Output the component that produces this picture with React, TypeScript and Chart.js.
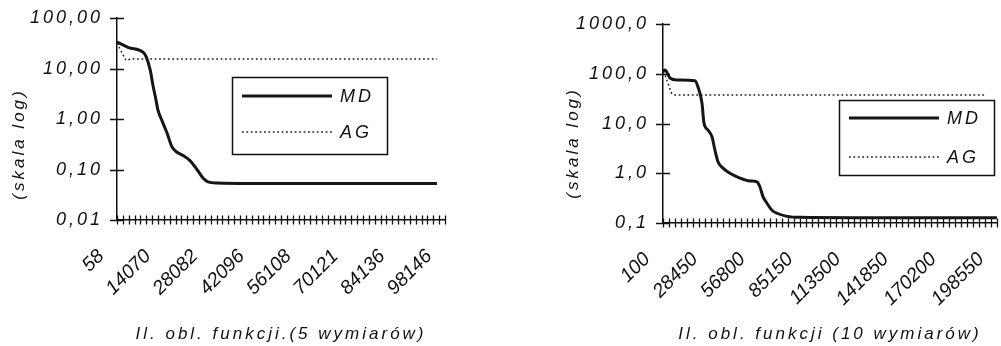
import React, { useEffect, useRef } from 'react';
import { Chart, registerables } from 'chart.js';

Chart.register(...registerables);

const FONT = "'Liberation Sans', Arial, sans-serif";
const INK = '#111111';
const LETTER_SPACING = '3px';
const MINOR_PER_LABEL = 8;

const seriesNames = ['MD', 'AG'];
const yTitle = '(skala log)';

// ---------- Chart 1: 5 wymiarów ----------
const xTitle5 = 'Il. obl. funkcji.(5 wymiarów)';
const xLabels5 = ['58', '14070', '28082', '42096', '56108', '70121', '84136', '98146'];
const yValues5 = [0.01, 0.1, 1, 10, 100];
const yLabels5 = ['0,01', '0,10', '1,00', '10,00', '100,00'];
const mdEvals5 = [58, 3500, 7832, 8800, 10000, 10822, 11600, 12317, 13812, 15008, 16503, 17998, 19792, 21885, 23978, 25772, 27267, 29958, 40000, 60000, 80000, 95738];
const mdValues5 = [33.5, 26, 21, 17, 9.3, 4.6, 2.6, 1.5, 0.83, 0.53, 0.28, 0.22, 0.19, 0.15, 0.1, 0.068, 0.057, 0.054, 0.053, 0.053, 0.053, 0.053];
const agEvals5 = [58, 1463, 2749, 4500, 95738];
const agValues5 = [32, 21, 14.5, 15.5, 15.5];

// ---------- Chart 2: 10 wymiarów ----------
const xTitle10 = 'Il. obl. funkcji (10 wymiarów)';
const xLabels10 = ['100', '28450', '56800', '85150', '113500', '141850', '170200', '198550'];
const yValues10 = [0.1, 1, 10, 100, 1000];
const yLabels10 = ['0,1', '1,0', '10,0', '100,0', '1000,0'];
const mdEvals10 = [100, 1288, 4258, 8416, 19108, 20890, 23266, 24454, 26830, 29206, 30988, 32770, 35740, 39898, 45838, 51778, 55936, 57718, 59500, 61876, 64846, 67816, 73756, 81478, 120000, 160000, 198496];
const mdValues10 = [110, 119, 82, 75, 72, 54, 25.7, 10.2, 7.4, 5.4, 2.9, 1.7, 1.27, 1.0, 0.8, 0.7, 0.67, 0.53, 0.34, 0.25, 0.18, 0.157, 0.136, 0.13, 0.128, 0.127, 0.127];
const agEvals10 = [100, 1500, 3250, 5268, 7228, 192000];
const agValues10 = [110, 90, 62, 40, 37.5, 37.5];

type Panel = {
  width: number;
  xLabels: string[];
  yValues: number[];
  yLabels: string[];
  md: [number[], number[]];
  ag: [number[], number[]];
  xTitle: string;
  areaLeft: number;
  padTop: number;
  padRight: number;
  xAxisHeight: number;
  legend: { x: number; y: number; w: number; h: number; rows: number[] };
  yTitlePos: { x: number; y: number };
};

const panels: Panel[] = [
  {
    width: 500,
    xLabels: xLabels5,
    yValues: yValues5,
    yLabels: yLabels5,
    md: [mdEvals5, mdValues5],
    ag: [agEvals5, agValues5],
    xTitle: xTitle5,
    areaLeft: 117,
    padTop: 18,
    padRight: 55,
    xAxisHeight: 126,
    legend: { x: 232, y: 77, w: 155, h: 77, rows: [19, 55] },
    yTitlePos: { x: 19, y: 144 },
  },
  {
    width: 501,
    xLabels: xLabels10,
    yValues: yValues10,
    yLabels: yLabels10,
    md: [mdEvals10, mdValues10],
    ag: [agEvals10, agValues10],
    xTitle: xTitle10,
    areaLeft: 163,
    padTop: 24,
    padRight: 4,
    xAxisHeight: 123,
    legend: { x: 339, y: 100, w: 155, h: 75, rows: [18, 57] },
    yTitlePos: { x: 73, y: 143 },
  },
];

const setSpacing = (chart: any, v: string) => {
  (chart.ctx as any).letterSpacing = v;
};

const decorPlugin = {
  id: 'decor',
  beforeLayout(chart: any) {
    setSpacing(chart, LETTER_SPACING);
  },
  beforeDraw(chart: any) {
    setSpacing(chart, LETTER_SPACING);
  },
  beforeDatasetsDraw(chart: any) {
    const { ctx, chartArea, scales } = chart;
    ctx.save();
    ctx.strokeStyle = INK;
    ctx.lineWidth = 1.3;
    ctx.beginPath();
    scales.x.ticks.forEach((t: any) => {
      const px = Math.round(scales.x.getPixelForValue(t.value)) + 0.5;
      ctx.moveTo(px, chartArea.bottom - 4.5);
      ctx.lineTo(px, chartArea.bottom + 4.5);
    });
    scales.y.ticks.forEach((t: any) => {
      const py = Math.round(scales.y.getPixelForValue(t.value)) + 0.5;
      ctx.moveTo(chartArea.left - 7, py);
      ctx.lineTo(chartArea.left + 7, py);
    });
    ctx.stroke();
    ctx.restore();
  },
  afterDatasetsDraw(chart: any) {
    // rotated x tick labels (drawn in a later layer) use no extra tracking
    setSpacing(chart, '0px');
  },
  afterDraw(chart: any, _args: any, opts: any) {
    const ctx = chart.ctx;
    ctx.save();
    (ctx as any).letterSpacing = LETTER_SPACING;
    ctx.fillStyle = INK;
    // y title
    ctx.save();
    ctx.font = `italic 17px ${FONT}`;
    ctx.translate(opts.yTitlePos.x, opts.yTitlePos.y);
    ctx.rotate(-Math.PI / 2);
    ctx.textAlign = 'center';
    ctx.textBaseline = 'middle';
    ctx.fillText(opts.yTitle, 0, 0);
    ctx.restore();
    // legend
    ctx.font = `italic 18px ${FONT}`;
    const b = opts.legend;
    ctx.strokeStyle = INK;
    ctx.lineWidth = 1.5;
    ctx.setLineDash([]);
    ctx.strokeRect(b.x + 0.5, b.y + 0.5, b.w, b.h);
    chart.data.datasets.forEach((ds: any, i: number) => {
      const y = b.y + b.rows[i];
      ctx.save();
      ctx.strokeStyle = ds.borderColor;
      ctx.lineWidth = ds.borderWidth;
      ctx.setLineDash(ds.borderDash || []);
      ctx.beginPath();
      ctx.moveTo(b.x + 10, y);
      ctx.lineTo(b.x + 100, y);
      ctx.stroke();
      ctx.restore();
      ctx.textAlign = 'left';
      ctx.textBaseline = 'middle';
      ctx.fillText(ds.label, b.x + 108, y + 1);
    });
    ctx.restore();
  },
};

function PanelChart({ p }: { p: Panel }) {
  const ref = useRef<HTMLCanvasElement | null>(null);
  useEffect(() => {
    if (!ref.current) return;
    const labelValues = p.xLabels.map(Number);
    const xMin = labelValues[0];
    const xMax = labelValues[labelValues.length - 1];
    const tickValues: number[] = [];
    for (let i = 0; i < labelValues.length - 1; i++) {
      const a = labelValues[i];
      const b = labelValues[i + 1];
      for (let k = 0; k < MINOR_PER_LABEL; k++) tickValues.push(a + ((b - a) * k) / MINOR_PER_LABEL);
    }
    tickValues.push(xMax);

    const chart = new Chart(ref.current, {
      type: 'line',
      data: {
        datasets: [
          {
            label: seriesNames[0],
            data: p.md[0].map((x, i) => ({ x, y: p.md[1][i] })),
            borderColor: '#151515',
            borderWidth: 3,
            pointRadius: 0,
            cubicInterpolationMode: 'monotone',
            fill: false,
          },
          {
            label: seriesNames[1],
            data: p.ag[0].map((x, i) => ({ x, y: p.ag[1][i] })),
            borderColor: '#222222',
            borderWidth: 1.5,
            borderDash: [1.8, 2.6],
            pointRadius: 0,
            tension: 0,
            fill: false,
          },
        ],
      },
      options: {
        animation: false,
        responsive: false,
        layout: { padding: { top: p.padTop, right: p.padRight, left: 0, bottom: 0 } },
        plugins: {
          legend: { display: false },
          tooltip: { enabled: false },
          decor: { legend: p.legend, yTitlePos: p.yTitlePos, yTitle },
        } as any,
        scales: {
          x: {
            type: 'linear',
            min: xMin,
            max: xMax,
            grid: { display: false, drawTicks: false },
            border: { display: true, color: INK, width: 1.5 },
            ticks: {
              z: 1,
              autoSkip: false,
              minRotation: 45,
              maxRotation: 45,
              padding: 25,
              labelOffset: -16,
              color: INK,
              font: { family: FONT, size: 19.5, style: 'italic' },
              callback: (_v: any, i: number) =>
                i % MINOR_PER_LABEL === 0 ? p.xLabels[i / MINOR_PER_LABEL] : '',
            },
            afterBuildTicks: (scale: any) => {
              scale.ticks = tickValues.map((v) => ({ value: v }));
            },
            afterFit: (scale: any) => {
              scale.height = p.xAxisHeight;
              scale.paddingLeft = 0;
              scale.paddingRight = 0;
              scale.paddingTop = 0;
              scale.paddingBottom = 0;
            },
            title: {
              display: true,
              text: p.xTitle,
              color: INK,
              font: { family: FONT, size: 17, style: 'italic' },
              padding: { top: 0, bottom: 2 },
            },
          },
          y: {
            type: 'logarithmic',
            min: p.yValues[0],
            max: p.yValues[p.yValues.length - 1],
            grid: { display: false, drawTicks: false },
            border: { display: true, color: INK, width: 1.5 },
            ticks: {
              padding: 14,
              color: INK,
              font: { family: FONT, size: 18, style: 'italic' },
              autoSkip: false,
              callback: (_v: any, i: number) => p.yLabels[i],
            },
            afterBuildTicks: (scale: any) => {
              scale.ticks = p.yValues.map((v) => ({ value: v }));
            },
            afterFit: (scale: any) => {
              scale.width = p.areaLeft;
              scale.paddingLeft = 0;
              scale.paddingRight = 0;
              scale.paddingTop = 0;
              scale.paddingBottom = 0;
            },
          },
        },
      },
      plugins: [decorPlugin as any],
    });
    return () => chart.destroy();
  }, [p]);
  return <canvas ref={ref} width={p.width} height={346} style={{ display: 'block' }} />;
}

export default function App() {
  return (
    <div
      style={{
        position: 'absolute',
        left: 0,
        top: 0,
        width: 1001,
        height: 346,
        display: 'flex',
        background: '#fff',
      }}
    >
      {panels.map((p, i) => (
        <PanelChart key={i} p={p} />
      ))}
    </div>
  );
}
